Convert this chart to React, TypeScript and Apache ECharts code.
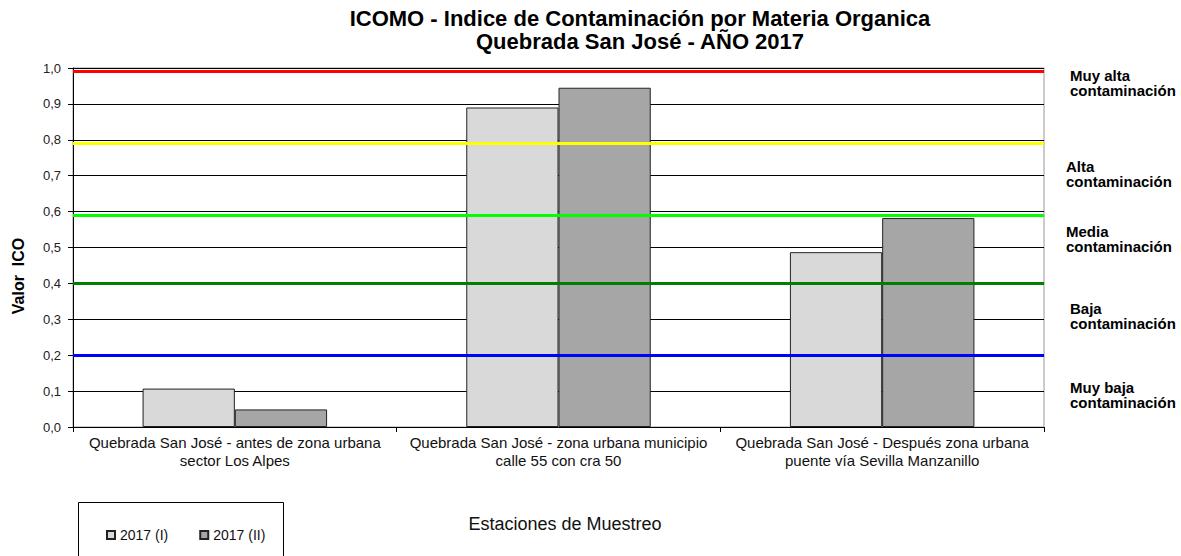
import React, { useEffect, useRef } from "react";
import * as echarts from "echarts";

const titleText = "ICOMO - Indice de Contaminación por Materia Organica\nQuebrada San José - AÑO 2017";
const categories = [
  "Quebrada San José - antes de zona urbana\nsector Los Alpes",
  "Quebrada San José - zona urbana municipio\ncalle 55 con cra 50",
  "Quebrada San José - Después zona urbana\npuente vía Sevilla Manzanillo",
];
const seriesNames = ["2017 (I)", "2017 (II)"];
const values2017I = [0.107, 0.89, 0.487];
const values2017II = [0.049, 0.945, 0.582];
const thresholdValues = [0.99, 0.79, 0.595, 0.4, 0.2];
const thresholdColors = ["#FF0000", "#FFFF00", "#00FF00", "#008000", "#0000FF"];
const levelLabels = [
  "Muy alta\ncontaminación",
  "Alta\ncontaminación",
  "Media\ncontaminación",
  "Baja\ncontaminación",
  "Muy baja\ncontaminación",
];
const levelLabelPos = [
  [1070, 68],
  [1066, 159],
  [1066, 224],
  [1070, 301],
  [1070, 380],
];

export default function App() {
  const ref = useRef<HTMLDivElement>(null);
  useEffect(() => {
    document.body.style.margin = "0";
    const chart = echarts.init(ref.current!, undefined, { renderer: "svg" });
    const font = "Arial, 'Liberation Sans', sans-serif";
    const option: any = {
      animation: false,
      backgroundColor: "#ffffff",
      textStyle: { fontFamily: font },
      grid: { left: 73, right: 137, top: 68, bottom: 129, containLabel: false, show: true, borderColor: "#999", borderWidth: 1, backgroundColor: "transparent" },
      legend: {
        left: 101,
        top: 523,
        itemWidth: 8,
        itemHeight: 8,
        itemGap: 31,
        icon: "rect",
        textStyle: { fontSize: 14, color: "#111", fontFamily: font },
        data: seriesNames,
      },
      xAxis: {
        type: "category",
        data: categories,
        axisLine: { lineStyle: { color: "#000", width: 1 } },
        axisTick: { show: true, length: 5, lineStyle: { color: "#000" } },
        axisLabel: { fontSize: 15, color: "#111", lineHeight: 18, margin: 6, interval: 0 },
      },
      yAxis: {
        type: "value",
        min: 0,
        max: 1,
        interval: 0.1,
        axisLine: { show: true, lineStyle: { color: "#000", width: 1 } },
        axisTick: { show: true, length: 5, lineStyle: { color: "#000" } },
        axisLabel: {
          fontSize: 13,
          color: "#222",
          margin: 12,
          formatter: (v: number) => v.toFixed(1).replace(".", ","),
        },
        splitLine: { show: true, lineStyle: { color: "#000", width: 1 } },
      },
      series: [
        {
          name: seriesNames[0],
          type: "bar",
          data: values2017I,
          barGap: "0%",
          barCategoryGap: "43%",
          itemStyle: { color: "#D9D9D9", borderColor: "#222", borderWidth: 1 },
          markLine: {
            silent: true,
            symbol: "none",
            label: { show: false },
            z: 10,
            data: thresholdValues.map((v, i) => ({
              yAxis: v,
              lineStyle: { color: thresholdColors[i], width: 3, type: "solid" },
            })),
          },
        },
        {
          name: seriesNames[1],
          type: "bar",
          data: values2017II,
          barGap: "0%",
          barCategoryGap: "43%",
          itemStyle: { color: "#A6A6A6", borderColor: "#222", borderWidth: 1 },
        },
      ],
      graphic: [
        {
          type: "text",
          x: 640,
          y: 7,
          style: {
            text: titleText,
            fontSize: 22,
            fontWeight: "bold",
            fill: "#000",
            fontFamily: font,
            lineHeight: 23,
            align: "center",
            verticalAlign: "top",
          },
        },
        {
          type: "text",
          x: 18,
          y: 276,
          rotation: Math.PI / 2,
          style: {
            text: "Valor  ICO",
            fontSize: 16,
            fontWeight: "bold",
            fill: "#000",
            fontFamily: font,
            align: "center",
            verticalAlign: "middle",
          },
        },
        {
          type: "text",
          x: 565,
          y: 524,
          style: {
            text: "Estaciones de Muestreo",
            fontSize: 18,
            fill: "#111",
            fontFamily: font,
            align: "center",
            verticalAlign: "middle",
          },
        },
        {
          type: "rect",
          shape: { x: 78.5, y: 502.5, width: 205, height: 70 },
          style: { fill: "none", stroke: "#000", lineWidth: 1 },
        },
        ...levelLabels.map((t, i) => ({
          type: "text",
          x: levelLabelPos[i][0],
          y: levelLabelPos[i][1],
          style: {
            text: t,
            fontSize: 15,
            fontWeight: "bold",
            fill: "#000",
            fontFamily: font,
            lineHeight: 15,
            align: "left",
            verticalAlign: "top",
          },
        })),
      ],
    };
    chart.setOption(option);
    return () => chart.dispose();
  }, []);
  return <div ref={ref} style={{ width: 1181, height: 556 }} />;
}
